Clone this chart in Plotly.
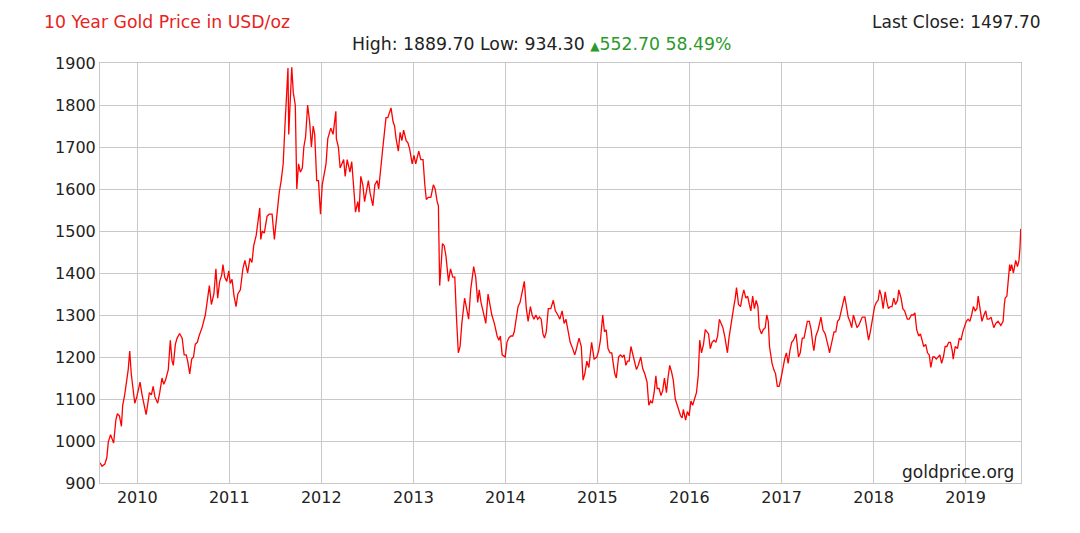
import plotly.graph_objects as go

# ---- data (date, USD/oz) ----
dates = [
    # 2009
    "2009-08-06", "2009-08-14", "2009-08-25", "2009-09-02", "2009-09-08", "2009-09-17", "2009-09-29",
    "2009-10-08", "2009-10-14", "2009-10-22", "2009-10-30", "2009-11-04", "2009-11-12", "2009-11-20",
    "2009-11-26", "2009-12-02", "2009-12-08", "2009-12-15", "2009-12-22", "2009-12-30",
    # 2010
    "2010-01-05", "2010-01-12", "2010-01-20", "2010-01-28", "2010-02-05", "2010-02-12", "2010-02-18",
    "2010-02-26", "2010-03-05", "2010-03-12", "2010-03-23", "2010-03-31", "2010-04-09", "2010-04-16",
    "2010-04-23", "2010-05-04", "2010-05-12", "2010-05-19", "2010-05-24", "2010-06-01", "2010-06-08",
    "2010-06-18", "2010-06-28", "2010-07-06", "2010-07-14", "2010-07-20", "2010-07-28", "2010-08-05",
    "2010-08-12", "2010-08-19", "2010-08-27", "2010-09-03", "2010-09-15", "2010-09-28", "2010-10-06",
    "2010-10-14", "2010-10-22", "2010-11-01", "2010-11-09", "2010-11-16", "2010-11-24", "2010-12-02",
    "2010-12-07", "2010-12-14", "2010-12-22", "2010-12-30",
    # 2011
    "2011-01-05", "2011-01-12", "2011-01-20", "2011-01-28", "2011-02-04", "2011-02-14", "2011-02-24",
    "2011-03-04", "2011-03-15", "2011-03-24", "2011-04-01", "2011-04-08", "2011-04-18", "2011-04-28",
    "2011-05-02", "2011-05-06", "2011-05-12", "2011-05-20", "2011-05-31", "2011-06-08", "2011-06-20",
    "2011-06-29", "2011-07-08", "2011-07-18", "2011-07-26", "2011-08-03", "2011-08-10", "2011-08-18",
    "2011-08-22", "2011-08-25", "2011-08-31", "2011-09-06", "2011-09-12", "2011-09-20", "2011-09-26",
    "2011-10-03", "2011-10-10", "2011-10-18", "2011-10-24", "2011-10-31", "2011-11-08", "2011-11-16",
    "2011-11-23", "2011-11-30", "2011-12-06", "2011-12-14", "2011-12-21", "2011-12-29",
    # 2012
    "2012-01-05", "2012-01-13", "2012-01-20", "2012-01-27", "2012-02-08", "2012-02-17", "2012-02-28",
    "2012-03-01", "2012-03-09", "2012-03-16", "2012-03-23", "2012-03-30", "2012-04-05", "2012-04-13",
    "2012-04-24", "2012-05-01", "2012-05-08", "2012-05-16", "2012-05-25", "2012-05-30", "2012-06-06",
    "2012-06-14", "2012-06-21", "2012-06-29", "2012-07-06", "2012-07-13", "2012-07-24", "2012-08-01",
    "2012-08-10", "2012-08-16", "2012-08-23", "2012-08-31", "2012-09-07", "2012-09-14", "2012-09-21",
    "2012-10-04", "2012-10-12", "2012-10-18", "2012-10-24", "2012-11-02", "2012-11-09", "2012-11-16",
    "2012-11-23", "2012-12-03", "2012-12-10", "2012-12-17", "2012-12-27",
    # 2013
    "2013-01-03", "2013-01-10", "2013-01-22", "2013-01-30", "2013-02-08", "2013-02-15", "2013-02-21",
    "2013-03-01", "2013-03-11", "2013-03-21", "2013-03-28", "2013-04-05", "2013-04-10", "2013-04-12",
    "2013-04-15", "2013-04-22", "2013-04-26", "2013-05-03", "2013-05-10", "2013-05-20", "2013-05-28",
    "2013-06-06", "2013-06-14", "2013-06-21", "2013-06-28", "2013-07-05", "2013-07-12", "2013-07-23",
    "2013-07-30", "2013-08-08", "2013-08-16", "2013-08-28", "2013-09-05", "2013-09-13", "2013-09-19",
    "2013-09-26", "2013-10-04", "2013-10-15", "2013-10-24", "2013-11-01", "2013-11-08", "2013-11-18",
    "2013-11-29", "2013-12-06", "2013-12-12", "2013-12-19", "2013-12-31",
    # 2014
    "2014-01-07", "2014-01-14", "2014-01-22", "2014-01-30", "2014-02-05", "2014-02-13", "2014-02-20",
    "2014-02-28", "2014-03-07", "2014-03-14", "2014-03-17", "2014-03-25", "2014-04-01", "2014-04-10",
    "2014-04-17", "2014-04-24", "2014-05-02", "2014-05-09", "2014-05-16", "2014-05-23", "2014-05-30",
    "2014-06-05", "2014-06-12", "2014-06-20", "2014-06-30", "2014-07-10", "2014-07-18", "2014-07-28",
    "2014-08-05", "2014-08-14", "2014-08-22", "2014-08-29", "2014-09-05", "2014-09-15", "2014-09-25",
    "2014-10-03", "2014-10-10", "2014-10-20", "2014-10-29", "2014-11-05", "2014-11-12", "2014-11-20",
    "2014-11-28", "2014-12-05", "2014-12-09", "2014-12-19", "2014-12-30",
    # 2015
    "2015-01-06", "2015-01-13", "2015-01-22", "2015-01-29", "2015-02-05", "2015-02-12", "2015-02-20",
    "2015-02-27", "2015-03-06", "2015-03-11", "2015-03-17", "2015-03-26", "2015-04-02", "2015-04-10",
    "2015-04-17", "2015-04-24", "2015-04-30", "2015-05-07", "2015-05-14", "2015-05-22", "2015-05-29",
    "2015-06-05", "2015-06-12", "2015-06-22", "2015-06-30", "2015-07-08", "2015-07-17", "2015-07-24",
    "2015-07-31", "2015-08-07", "2015-08-14", "2015-08-21", "2015-08-26", "2015-09-03", "2015-09-10",
    "2015-09-17", "2015-09-24", "2015-10-02", "2015-10-08", "2015-10-15", "2015-10-22", "2015-10-29",
    "2015-11-06", "2015-11-13", "2015-11-20", "2015-11-27", "2015-12-03", "2015-12-08", "2015-12-17",
    "2015-12-24", "2015-12-31",
    # 2016
    "2016-01-07", "2016-01-14", "2016-01-22", "2016-01-29", "2016-02-05", "2016-02-11", "2016-02-18",
    "2016-02-26", "2016-03-04", "2016-03-11", "2016-03-17", "2016-03-24", "2016-03-31", "2016-04-08",
    "2016-04-15", "2016-04-22", "2016-04-29", "2016-05-06", "2016-05-13", "2016-05-20", "2016-05-31",
    "2016-06-06", "2016-06-16", "2016-06-24", "2016-07-01", "2016-07-06", "2016-07-14", "2016-07-22",
    "2016-07-29", "2016-08-04", "2016-08-12", "2016-08-19", "2016-08-26", "2016-09-01", "2016-09-08",
    "2016-09-15", "2016-09-22", "2016-09-29", "2016-10-04", "2016-10-13", "2016-10-20", "2016-10-28",
    "2016-11-03", "2016-11-09", "2016-11-14", "2016-11-24", "2016-12-01", "2016-12-08", "2016-12-15",
    "2016-12-22", "2016-12-30",
    # 2017
    "2017-01-06", "2017-01-13", "2017-01-20", "2017-01-27", "2017-02-03", "2017-02-10", "2017-02-17",
    "2017-02-27", "2017-03-03", "2017-03-09", "2017-03-16", "2017-03-24", "2017-03-31", "2017-04-07",
    "2017-04-13", "2017-04-21", "2017-04-28", "2017-05-05", "2017-05-09", "2017-05-17", "2017-05-26",
    "2017-06-06", "2017-06-14", "2017-06-23", "2017-06-30", "2017-07-07", "2017-07-10", "2017-07-19",
    "2017-07-28", "2017-08-04", "2017-08-11", "2017-08-18", "2017-08-29", "2017-09-08", "2017-09-14",
    "2017-09-22", "2017-09-29", "2017-10-06", "2017-10-13", "2017-10-20", "2017-10-27", "2017-11-03",
    "2017-11-10", "2017-11-17", "2017-11-28", "2017-12-05", "2017-12-12", "2017-12-19", "2017-12-28",
    # 2018
    "2018-01-05", "2018-01-12", "2018-01-19", "2018-01-25", "2018-02-01", "2018-02-08", "2018-02-16",
    "2018-02-23", "2018-03-01", "2018-03-08", "2018-03-15", "2018-03-22", "2018-03-29", "2018-04-06",
    "2018-04-11", "2018-04-20", "2018-04-27", "2018-05-04", "2018-05-15", "2018-05-22", "2018-05-31",
    "2018-06-08", "2018-06-14", "2018-06-21", "2018-06-29", "2018-07-06", "2018-07-13", "2018-07-19",
    "2018-07-27", "2018-08-03", "2018-08-10", "2018-08-16", "2018-08-24", "2018-08-31", "2018-09-07",
    "2018-09-14", "2018-09-21", "2018-09-28", "2018-10-05", "2018-10-12", "2018-10-19", "2018-10-26",
    "2018-11-02", "2018-11-09", "2018-11-13", "2018-11-21", "2018-11-30", "2018-12-07", "2018-12-14",
    "2018-12-21", "2018-12-31",
    # 2019
    "2019-01-04", "2019-01-11", "2019-01-18", "2019-01-25", "2019-02-01", "2019-02-08", "2019-02-15",
    "2019-02-20", "2019-02-28", "2019-03-07", "2019-03-15", "2019-03-22", "2019-03-28", "2019-04-04",
    "2019-04-12", "2019-04-23", "2019-05-01", "2019-05-10", "2019-05-21", "2019-05-30", "2019-06-04",
    "2019-06-07", "2019-06-14", "2019-06-20", "2019-06-25", "2019-06-28", "2019-07-03", "2019-07-10",
    "2019-07-16", "2019-07-19", "2019-07-26", "2019-08-01", "2019-08-05", "2019-08-07", "2019-08-08",
]

prices = [
    # 2009
    948, 940, 945, 960, 998, 1015, 995,
    1050, 1065, 1060, 1035, 1085, 1110, 1140,
    1170, 1214, 1160, 1125, 1090, 1105,
    # 2010
    1120, 1140, 1110, 1085, 1063, 1090, 1115,
    1110, 1130, 1105, 1090, 1115, 1150, 1135,
    1145, 1170, 1240, 1190, 1180, 1230, 1245,
    1256, 1245, 1205, 1205, 1190, 1160, 1195,
    1200, 1230, 1235, 1250, 1270, 1300, 1340,
    1370, 1325, 1350, 1410, 1340, 1380, 1395,
    1420, 1390, 1380, 1405,
    # 2011
    1375, 1385, 1345, 1320, 1350, 1360, 1410,
    1430, 1400, 1435, 1425, 1465, 1490, 1535,
    1555, 1480, 1500, 1495, 1535, 1540, 1540,
    1480, 1540, 1590, 1620, 1660, 1750, 1830,
    1888, 1730, 1830, 1890, 1830, 1800, 1600,
    1660, 1640, 1650, 1700, 1725, 1800, 1760,
    1700, 1750, 1730, 1620, 1620, 1540,
    # 2012
    1610, 1640, 1660, 1720, 1745, 1730, 1785,
    1720, 1700, 1650, 1660, 1670, 1630, 1670,
    1640, 1665, 1610, 1545, 1570, 1545, 1630,
    1610, 1570, 1600, 1620, 1590, 1560, 1610,
    1620, 1600, 1650, 1690, 1730, 1770, 1770,
    1793, 1760, 1750, 1720, 1690, 1735, 1715,
    1740, 1715, 1710, 1695, 1660,
    # 2013
    1680, 1660, 1690, 1670, 1670, 1610, 1575,
    1580, 1580, 1610, 1600, 1570, 1560, 1480,
    1370, 1430, 1470, 1465, 1440, 1380, 1410,
    1390, 1390, 1290, 1210, 1225, 1280, 1340,
    1320, 1290, 1360, 1415, 1390, 1330, 1360,
    1330, 1310, 1280, 1350, 1320, 1300, 1280,
    1250, 1240, 1250, 1205, 1200,
    # 2014
    1235, 1245, 1250, 1250, 1260, 1290, 1320,
    1330, 1350, 1375, 1380, 1315, 1285, 1320,
    1300, 1290, 1300, 1290, 1295, 1290, 1255,
    1245, 1260, 1315, 1315, 1335, 1310, 1300,
    1290, 1310, 1280, 1290, 1270, 1235, 1220,
    1205, 1220, 1245, 1225, 1145, 1160, 1190,
    1175, 1205, 1235, 1195, 1200,
    # 2015
    1215, 1240, 1300, 1260, 1265, 1220, 1210,
    1210, 1180, 1160, 1150, 1200, 1205, 1200,
    1205, 1180, 1190, 1190, 1225, 1205, 1190,
    1170, 1180, 1200, 1172, 1160, 1140, 1085,
    1095, 1090, 1115, 1155, 1125, 1125, 1108,
    1120, 1150, 1115, 1150, 1180, 1165, 1145,
    1100, 1085, 1075, 1060, 1055, 1075, 1050,
    1070, 1060,
    # 2016
    1095, 1085, 1100, 1115, 1155, 1240, 1210,
    1230, 1265, 1260, 1255, 1220, 1235, 1240,
    1235, 1250, 1290, 1280, 1270, 1250, 1210,
    1245, 1290, 1315, 1340, 1365, 1325, 1320,
    1345, 1360, 1340, 1345, 1325, 1310, 1345,
    1315, 1335, 1320, 1270, 1255, 1265, 1270,
    1300, 1285, 1225, 1185, 1170, 1160, 1130,
    1130, 1150,
    # 2017
    1175, 1195, 1210, 1185, 1215, 1235, 1240,
    1255, 1235, 1200, 1210, 1245, 1245, 1265,
    1285, 1285, 1265, 1230, 1215, 1250, 1265,
    1295, 1265, 1255, 1240, 1220, 1210, 1240,
    1260, 1260, 1285, 1290, 1320, 1345, 1325,
    1295, 1285, 1270, 1300, 1285, 1270, 1275,
    1285, 1295, 1295, 1265, 1240, 1260, 1290,
    # 2018
    1320, 1330, 1335, 1360, 1345, 1315, 1355,
    1330, 1315, 1320, 1320, 1340, 1325, 1335,
    1360, 1340, 1315, 1310, 1290, 1290, 1300,
    1300, 1305, 1265, 1250, 1255, 1240, 1225,
    1230, 1210, 1205, 1175, 1200, 1200, 1195,
    1200, 1205, 1185, 1200, 1225, 1225, 1235,
    1235, 1215, 1195, 1225, 1220, 1245, 1240,
    1260, 1282,
    # 2019
    1285, 1290, 1285, 1300, 1320, 1310, 1315,
    1345, 1315, 1285, 1300, 1310, 1290, 1290,
    1295, 1270, 1280, 1285, 1275, 1285, 1325,
    1340, 1345, 1390, 1420, 1405, 1420, 1400,
    1415, 1430, 1415, 1430, 1460, 1500, 1505,
]

x_range = ["2009-08-06", "2019-08-09"]
y_range = [900, 1900]
y_ticks = [900, 1000, 1100, 1200, 1300, 1400, 1500, 1600, 1700, 1800, 1900]
x_ticks = ["2010-01-01", "2011-01-01", "2012-01-01", "2013-01-01", "2014-01-01",
           "2015-01-01", "2016-01-01", "2017-01-01", "2018-01-01", "2019-01-01"]
x_tick_labels = ["2010", "2011", "2012", "2013", "2014", "2015", "2016", "2017", "2018", "2019"]

title_text = "10 Year Gold Price in USD/oz"
last_close_text = "Last Close: 1497.70"
high_low_text = "High: 1889.70 Low: 934.30 "
change_text = "552.70 58.49%"
source_text = "goldprice.org"

FONT = "DejaVu Sans, Verdana, sans-serif"
GRID = "#c8c8c8"
TXT = "#222222"

fig = go.Figure()
fig.add_trace(go.Scatter(
    x=dates, y=prices, mode="lines",
    line=dict(color="#ff0000", width=1.3),
    hoverinfo="x+y", showlegend=False,
))

fig.update_layout(
    width=1080, height=533,
    margin=dict(l=100, r=59, t=63, b=50),
    paper_bgcolor="white", plot_bgcolor="white",
    font=dict(family=FONT, size=16, color=TXT),
    xaxis=dict(
        range=x_range, tickvals=x_ticks, ticktext=x_tick_labels,
        showgrid=True, gridcolor=GRID, gridwidth=1,
        showline=True, linecolor=GRID, linewidth=1, mirror=True,
        ticks="", tickfont=dict(size=16, color=TXT), zeroline=False,
    ),
    yaxis=dict(
        range=y_range, tickvals=y_ticks,
        showgrid=True, gridcolor=GRID, gridwidth=1,
        showline=True, linecolor=GRID, linewidth=1, mirror=True,
        ticks="", ticklabelstandoff=0, tickfont=dict(size=16, color=TXT), zeroline=False,
    ),
    annotations=[
        dict(text=title_text, xref="paper", yref="paper", x=-0.063, y=1.098,
             xanchor="left", yanchor="middle", showarrow=False,
             font=dict(size=17.3, color="#e8231d", family=FONT)),
        dict(text=last_close_text, xref="paper", yref="paper", x=1.024, y=1.098,
             xanchor="right", yanchor="middle", showarrow=False,
             font=dict(size=17, color=TXT, family=FONT)),
        dict(text=high_low_text + "<span style='color:#2a9a2a'><span style='font-size:12px'>▲</span>"
             + change_text + "</span>",
             xref="paper", yref="paper", x=0.479, y=1.046,
             xanchor="center", yanchor="middle", showarrow=False,
             font=dict(size=17.3, color=TXT, family=FONT)),
        dict(text=source_text, xref="paper", yref="paper", x=0.995, y=0.026,
             xanchor="right", yanchor="middle", showarrow=False,
             font=dict(size=17, color=TXT, family=FONT)),
    ],
)

fig.write_html("out.html")
